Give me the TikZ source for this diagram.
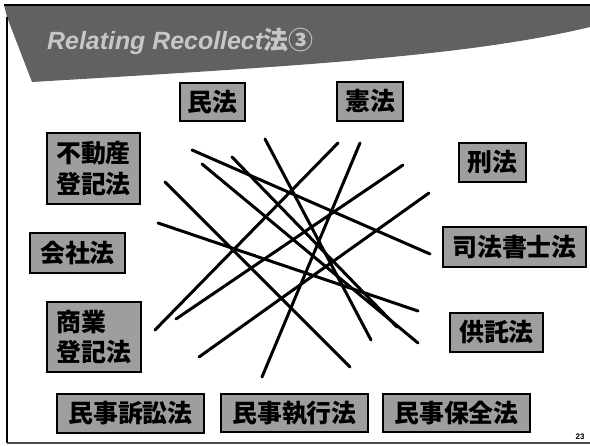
\documentclass[tikz,border=0pt]{standalone}
\usepackage{fontspec}
\setmainfont{Liberation Sans}
\newfontfamily\cjk{Noto Sans CJK JP}
\usepackage{tikz}
\usetikzlibrary{calc}
\tikzstyle{law} = [rectangle, draw=black, line width=1.3bp, fill=black!38, inner xsep=5bp, inner ysep=0bp, align=left, font=\cjk\bfseries\fontsize{25}{31}\selectfont]
\tikzstyle{stroke} = [draw, line width=3bp, line cap=round]
\tikzstyle{frame} = [draw, line width=1.2bp]

\begin{document}
\begin{tikzpicture}[x=1bp, y=-1bp]
		\useasboundingbox (0,0) rectangle (590,446);
		
		% header band
		\fill [black!62] (4,5) -- (590,5) -- (590,27) .. controls (470,56) and (300,66) .. (32,82) -- (7,17) -- cycle;
		\draw [frame, line width=1.6bp] (4,5) -- (590,5);
		\node [anchor=base west, text=black!22, inner sep=0pt, font=\bfseries\itshape\fontsize{25}{25}\selectfont] (title) at (47,50) {Relating Recollect{\cjk 法③}};
		
		% slide frame
		\coordinate (ftop) at (7,17);
		\coordinate (fcorner) at (7,443);
		\coordinate (fright) at (590,443);
		\path [frame] (ftop) -- (fcorner);
		\path [frame, black!70] (fcorner) -- (fright);
		\node [font=\bfseries\fontsize{8}{8}\selectfont] (pageno) at (580,437) {23};
		
		% laws
		\node [law, minimum width=65bp, minimum height=38bp] (minpo) at (212.5,102) {民法};
		\node [law, minimum width=66bp, minimum height=39bp] (kenpo) at (370,101.5) {憲法};
		\node [law, minimum width=93bp, minimum height=71bp] (fudosan) at (93.5,168.5) {不動産\\登記法};
		\node [law, minimum width=67bp, minimum height=39bp] (keiho) at (492.5,162.5) {刑法};
		\node [law, minimum width=95bp, minimum height=40bp] (kaisha) at (77.5,253) {会社法};
		\node [law, minimum width=143bp, minimum height=40bp] (shiho) at (514.5,247) {司法書士法};
		\node [law, minimum width=94bp, minimum height=70bp] (shogyo) at (94,337) {商業\\登記法};
		\node [law, minimum width=93bp, minimum height=39bp] (kyotaku) at (496.5,332.5) {供託法};
		\node [law, minimum width=147bp, minimum height=39bp] (soshou) at (130.5,413.5) {民事訴訟法};
		\node [law, minimum width=147bp, minimum height=38bp] (shikko) at (294.5,413) {民事執行法};
		\node [law, minimum width=147bp, minimum height=38bp] (hozen) at (456.5,413) {民事保全法};
		
		% tangle of lines
		\coordinate (a1) at (192,150);  \coordinate (b1) at (430,254);
		\coordinate (a2) at (265,139);  \coordinate (b2) at (371,340);
		\coordinate (a3) at (338,143);  \coordinate (b3) at (155,330);
		\coordinate (a4) at (360,143);  \coordinate (b4) at (262,377);
		\coordinate (a5) at (403,165);  \coordinate (b5) at (176,319);
		\coordinate (a6) at (429,193);  \coordinate (b6) at (199,357);
		\coordinate (a7) at (232,157);  \coordinate (b7) at (397,327);
		\coordinate (a8) at (202,164);  \coordinate (b8) at (418,343);
		\coordinate (a9) at (165,182);  \coordinate (b9) at (350,367);
		\coordinate (a10) at (158,223); \coordinate (b10) at (418,311);
		
		\path [stroke] (a1) -- (b1);
		\path [stroke] (a2) -- (b2);
		\path [stroke] (a3) -- (b3);
		\path [stroke] (a4) -- (b4);
		\path [stroke] (a5) -- (b5);
		\path [stroke] (a6) -- (b6);
		\path [stroke] (a7) -- (b7);
		\path [stroke] (a8) -- (b8);
		\path [stroke] (a9) -- (b9);
		\path [stroke] (a10) -- (b10);
		
\end{tikzpicture}
\end{document}
